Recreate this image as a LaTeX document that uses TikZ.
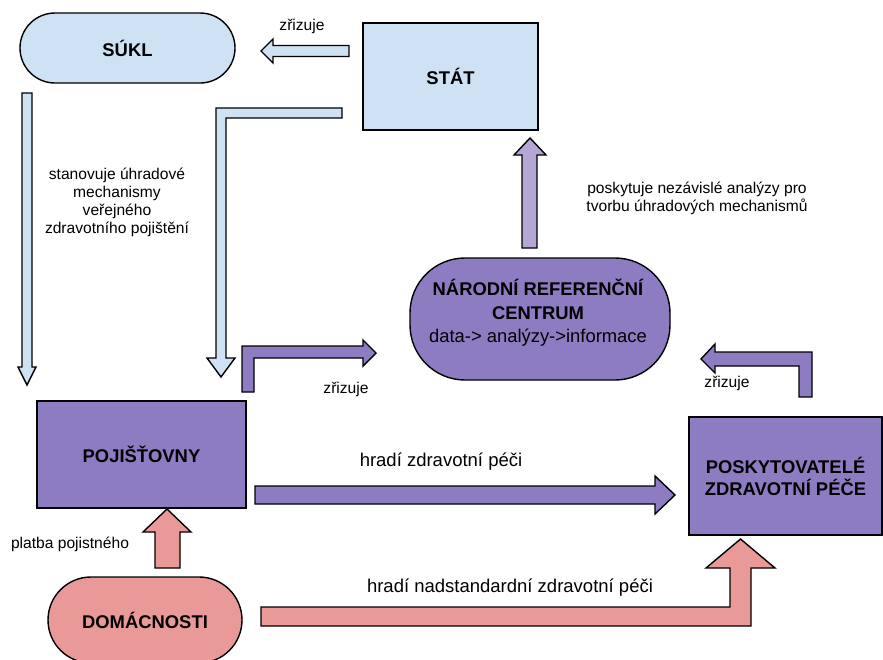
\documentclass[tikz,border=0pt]{standalone}
\usepackage{fontspec}
\setmainfont{Liberation Sans}
\definecolor{lblue}{HTML}{CFE2F3}
\definecolor{purp}{HTML}{8E7CC3}
\definecolor{lpurp}{HTML}{B4A7D6}
\definecolor{pinkc}{HTML}{EA9999}
\begin{document}
\begin{tikzpicture}[x=1pt,y=-1pt,
  ent/.style={draw=black, line width=1.4pt, inner sep=0pt, align=center, font=\fontsize{18.4}{22}\selectfont\bfseries},
  lab/.style={font=\fontsize{15.6}{17.8}\selectfont, align=center, inner sep=0pt},
  biglab/.style={font=\fontsize{18.5}{22}\selectfont, inner sep=0pt},
  barrow/.style={draw=black, line width=1.4pt, line join=miter}]
\useasboundingbox (0,0) rectangle (883,659);
\clip (0,0) rectangle (883,659);

% entities
\node[ent, fill=lblue, minimum width=215pt, minimum height=70pt, rounded corners=35pt] (sukl) at (127.5,48) {SÚKL};
\node[ent, fill=lblue, minimum width=175pt, minimum height=107pt] (stat) at (450.5,76.5) {STÁT};
\node[ent, fill=purp, minimum width=260pt, minimum height=122pt, rounded corners=55pt] (nrc) at (540,319) {};
\node[align=center, inner sep=0pt, font=\fontsize{18.4}{23.5}\selectfont] (nrct) at (538,313) {{\bfseries NÁRODNÍ REFERENČNÍ}\\{\bfseries CENTRUM}\\data-> analýzy->informace};
\node[ent, fill=purp, minimum width=209pt, minimum height=107pt] (poj) at (141.5,454.5) {POJIŠŤOVNY};
\node[ent, fill=purp, minimum width=193pt, minimum height=118pt] (posk) at (785.5,476) {POSKYTOVATELÉ\\ZDRAVOTNÍ PÉČE};
\node[ent, fill=pinkc, minimum width=194pt, minimum height=86pt, rounded corners=43pt] (dom) at (145,620) {DOMÁCNOSTI};

% block arrows
% STAT -> SUKL
\draw[barrow, fill=lblue] (349,45.5) -- (273,45.5) -- (273,39) -- (261,51) -- (273,63) -- (273,56.5) -- (349,56.5) -- cycle;
% SUKL -> POJ
\draw[barrow, fill=lblue] (22,93) -- (32,93) -- (32,367) -- (36,367) -- (27,385) -- (18,367) -- (22,367) -- cycle;
% STAT -> POJ (L)
\draw[barrow, fill=lblue] (342,108) -- (216,108) -- (216,358) -- (207,358) -- (221,377) -- (235,358) -- (226,358) -- (226,118) -- (342,118) -- cycle;
% POJ -> NRC (L)
\draw[barrow, fill=purp] (242,392) -- (242,346) -- (363,346) -- (363,340) -- (376,353) -- (363,366) -- (363,358) -- (254,358) -- (254,392) -- cycle;
% NRC -> STAT
\draw[barrow, fill=lpurp] (522,248) -- (522,155) -- (514,155) -- (530,138) -- (546,155) -- (537,155) -- (537,248) -- cycle;
% POJ -> POSK
\draw[barrow, fill=purp] (255,486) -- (655,486) -- (655,476) -- (675,495) -- (655,514) -- (655,504) -- (255,504) -- cycle;
% DOM -> POJ
\draw[barrow, fill=pinkc] (155,568) -- (155,532) -- (143,532) -- (167,509) -- (191,532) -- (180,532) -- (180,568) -- cycle;
% DOM -> POSK (L)
\draw[barrow, fill=pinkc] (261,607) -- (730,607) -- (730,568) -- (706,568) -- (740.5,539) -- (775,568) -- (751,568) -- (751,626) -- (261,626) -- cycle;
% POSK -> NRC (L)
\draw[barrow, fill=purp] (812,397) -- (812,352) -- (715,352) -- (715,344) -- (701,359) -- (715,373) -- (715,366) -- (799,366) -- (799,397) -- cycle;

% labels
\node[lab] (l1) at (302,26) {zřizuje};
\node[lab] (l2) at (117,202.5) {stanovuje úhradové\\mechanismy\\veřejného\\zdravotního pojištění};
\node[lab] (l3) at (346,389) {zřizuje};
\node[lab] (l4) at (697,198.5) {poskytuje nezávislé analýzy pro\\tvorbu úhradových mechanismů};
\node[lab] (l5) at (727,383) {zřizuje};
\node[biglab] (l6) at (441,462) {hradí zdravotní péči};
\node[lab] (l7) at (70,544) {platba pojistného};
\node[biglab] (l8) at (510,588) {hradí nadstandardní zdravotní péči};
\end{tikzpicture}
\end{document}
